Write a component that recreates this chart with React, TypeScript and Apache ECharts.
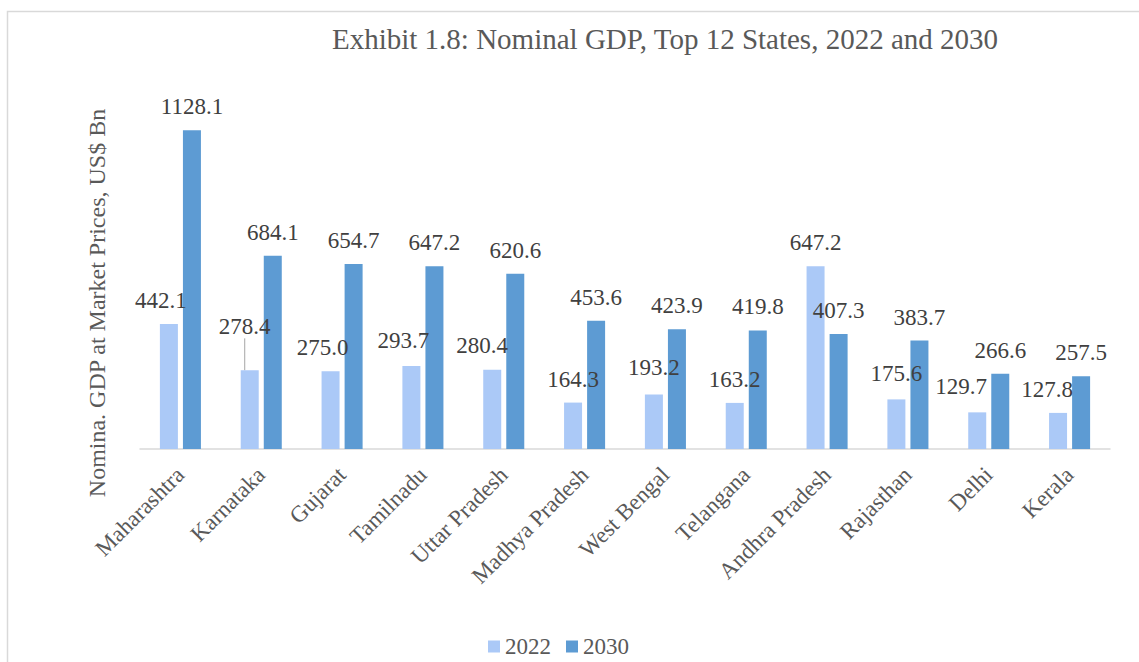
import React, { useEffect, useRef } from "react";
import * as echarts from "echarts";

const states = [
  "Maharashtra", "Karnataka", "Gujarat", "Tamilnadu", "Uttar Pradesh", "Madhya Pradesh",
  "West Bengal", "Telangana", "Andhra Pradesh", "Rajasthan", "Delhi", "Kerala",
];
const gdp2022 = [442.1, 278.4, 275.0, 293.7, 280.4, 164.3, 193.2, 163.2, 647.2, 175.6, 129.7, 127.8];
const gdp2030 = [1128.1, 684.1, 654.7, 647.2, 620.6, 453.6, 423.9, 419.8, 407.3, 383.7, 266.6, 257.5];
const seriesNames = ["2022", "2030"];

// manual label nudges (dx, dy) as in the source (styling only)
const nudge2022 = [
  [-8, 0], [-5, -20], [-8, 0], [-8, -2], [-10, -1], [0, 0],
  [0, -3], [0, 0], [0, 0], [0, -2], [-16, -2], [-11, 0],
];

const SERIF = "Liberation Serif";

export default function App() {
  const ref = useRef<HTMLDivElement>(null);
  useEffect(() => {
    if (!ref.current) return;
    const chart = echarts.init(ref.current, undefined, { renderer: "svg" });
    const labelStyle = {
      show: true,
      position: "top" as const,
      distance: 12,
      color: "#404040",
      fontSize: 23,
      fontFamily: SERIF,
      formatter: (p: any) => Number(p.value).toFixed(1),
    };
    chart.setOption({
      animation: false,
      backgroundColor: "#ffffff",
      title: {
        text: "Exhibit 1.8: Nominal GDP, Top 12 States, 2022 and 2030",
        left: 660,
        top: 19,
        textAlign: "center",
        textStyle: { fontFamily: SERIF, fontSize: 29, fontWeight: "normal", color: "#595959" },
      },
      graphic: [
        {
          type: "rect",
          shape: { x: 7.5, y: 11.5, width: 1300, height: 800 },
          style: { fill: "none", stroke: "#d9d9d9", lineWidth: 1.5 },
          silent: true,
        },
        {
          type: "text",
          x: 97,
          y: 303,
          rotation: Math.PI / 2,
          style: {
            text: "Nomina. GDP at Market Prices, US$ Bn",
            fontFamily: SERIF,
            fontSize: 24,
            fill: "#595959",
            textAlign: "center",
            textVerticalAlign: "middle",
          },
        },
      ],
      legend: {
        data: seriesNames,
        top: 630,
        left: 483,
        itemWidth: 12,
        itemHeight: 12,
        itemGap: 15,
        icon: "rect",
        textStyle: { fontFamily: SERIF, fontSize: 23, color: "#595959" },
      },
      grid: { left: 140, right: 29, top: 110, bottom: 213 },
      xAxis: {
        type: "category",
        data: states,
        axisLine: { lineStyle: { color: "#d9d9d9", width: 1.5 } },
        axisTick: { show: false },
        axisLabel: {
          interval: 0,
          rotate: 45,
          margin: 22,
          fontFamily: SERIF,
          fontSize: 23,
          color: "#595959",
        },
      },
      yAxis: {
        type: "value",
        min: 0,
        max: 1200,
        axisLine: { show: false },
        axisTick: { show: false },
        axisLabel: { show: false },
        splitLine: { show: false },
      },
      series: [
        {
          name: seriesNames[0],
          type: "bar",
          barWidth: 18,
          barGap: "28%",
          itemStyle: { color: "#abc9f7" },
          data: gdp2022.map((v, i) =>
            i === 1
              ? { value: v, labelLine: { show: true, lineStyle: { color: "#a6a6a6", width: 1 } } }
              : v
          ),
          label: labelStyle,
          labelLine: { show: false },
          labelLayout: (p: any) => ({ dx: nudge2022[p.dataIndex][0], dy: nudge2022[p.dataIndex][1] }),
        },
        {
          name: seriesNames[1],
          type: "bar",
          barWidth: 18,
          itemStyle: { color: "#5d9bd3" },
          data: gdp2030,
          label: labelStyle,
        },
      ],
    });
    return () => chart.dispose();
  }, []);
  return (
    <div
      ref={ref}
      style={{ position: "absolute", left: 0, top: 0, width: 1139, height: 662 }}
    />
  );
}
